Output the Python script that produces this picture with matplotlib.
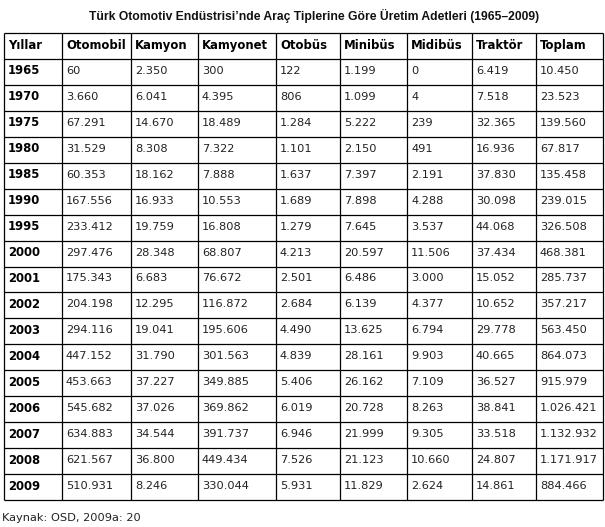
import matplotlib
matplotlib.use("Agg")
import matplotlib.pyplot as plt

title = "Türk Otomotiv Endüstrisi’nde Araç Tiplerine Göre Üretim Adetleri (1965–2009)"
source = "Kaynak: OSD, 2009a: 20"

columns = ["Yıllar", "Otomobil", "Kamyon", "Kamyonet", "Otobüs",
           "Minibüs", "Midibüs", "Traktör", "Toplam"]
years = ["1965", "1970", "1975", "1980", "1985", "1990", "1995", "2000", "2001",
         "2002", "2003", "2004", "2005", "2006", "2007", "2008", "2009"]

otomobil = ["60", "3.660", "67.291", "31.529", "60.353", "167.556", "233.412", "297.476",
            "175.343", "204.198", "294.116", "447.152", "453.663", "545.682", "634.883",
            "621.567", "510.931"]
kamyon = ["2.350", "6.041", "14.670", "8.308", "18.162", "16.933", "19.759", "28.348",
          "6.683", "12.295", "19.041", "31.790", "37.227", "37.026", "34.544", "36.800", "8.246"]
kamyonet = ["300", "4.395", "18.489", "7.322", "7.888", "10.553", "16.808", "68.807",
            "76.672", "116.872", "195.606", "301.563", "349.885", "369.862", "391.737",
            "449.434", "330.044"]
otobus = ["122", "806", "1.284", "1.101", "1.637", "1.689", "1.279", "4.213", "2.501",
          "2.684", "4.490", "4.839", "5.406", "6.019", "6.946", "7.526", "5.931"]
minibus = ["1.199", "1.099", "5.222", "2.150", "7.397", "7.898", "7.645", "20.597",
           "6.486", "6.139", "13.625", "28.161", "26.162", "20.728", "21.999", "21.123", "11.829"]
midibus = ["0", "4", "239", "491", "2.191", "4.288", "3.537", "11.506", "3.000", "4.377",
           "6.794", "9.903", "7.109", "8.263", "9.305", "10.660", "2.624"]
traktor = ["6.419", "7.518", "32.365", "16.936", "37.830", "30.098", "44.068", "37.434",
           "15.052", "10.652", "29.778", "40.665", "36.527", "38.841", "33.518", "24.807", "14.861"]
toplam = ["10.450", "23.523", "139.560", "67.817", "135.458", "239.015", "326.508",
          "468.381", "285.737", "357.217", "563.450", "864.073", "915.979", "1.026.421",
          "1.132.932", "1.171.917", "884.466"]

series = [otomobil, kamyon, kamyonet, otobus, minibus, midibus, traktor, toplam]

# layout in pixels
W, H = 605, 527
col_edges = [4, 62, 131, 198, 276, 340, 407, 472, 536, 603]
top, bottom = 33, 500
n_rows = len(years) + 1
row_h = (bottom - top) / n_rows

fig = plt.figure(figsize=(W / 100, H / 100), dpi=100)
ax = fig.add_axes([0, 0, 1, 1])
ax.set_xlim(0, W)
ax.set_ylim(H, 0)
ax.axis("off")

font = "DejaVu Sans"
ax.text(314, 16, title, ha="center", va="center", fontsize=8.7,
        fontweight="bold", family="Liberation Sans", color="#111111")

# grid
for i in range(n_rows + 1):
    ax.plot([col_edges[0], col_edges[-1]], [top + i * row_h] * 2,
            color="black", lw=0.9, solid_capstyle="butt")
for x in col_edges:
    ax.plot([x, x], [top, bottom], color="black", lw=0.9, solid_capstyle="butt")

pad = 4
# header
for j, name in enumerate(columns):
    ax.text(col_edges[j] + pad, top + row_h / 2, name, ha="left", va="center",
            fontsize=8.4, fontweight="bold", family=font, color="black")

# body
for i, yr in enumerate(years):
    yc = top + (i + 1.5) * row_h - 1
    ax.text(col_edges[0] + pad, yc, yr, ha="left", va="center",
            fontsize=8.4, fontweight="bold", family=font, color="black")
    for j, s in enumerate(series):
        ax.text(col_edges[j + 1] + pad, yc, s[i], ha="left", va="center",
                fontsize=8.2, family=font, color="#222222")

ax.text(2, 518, source, ha="left", va="center", fontsize=8.2, family=font, color="#222222")

fig.savefig("out.png", dpi=100, facecolor="white")
